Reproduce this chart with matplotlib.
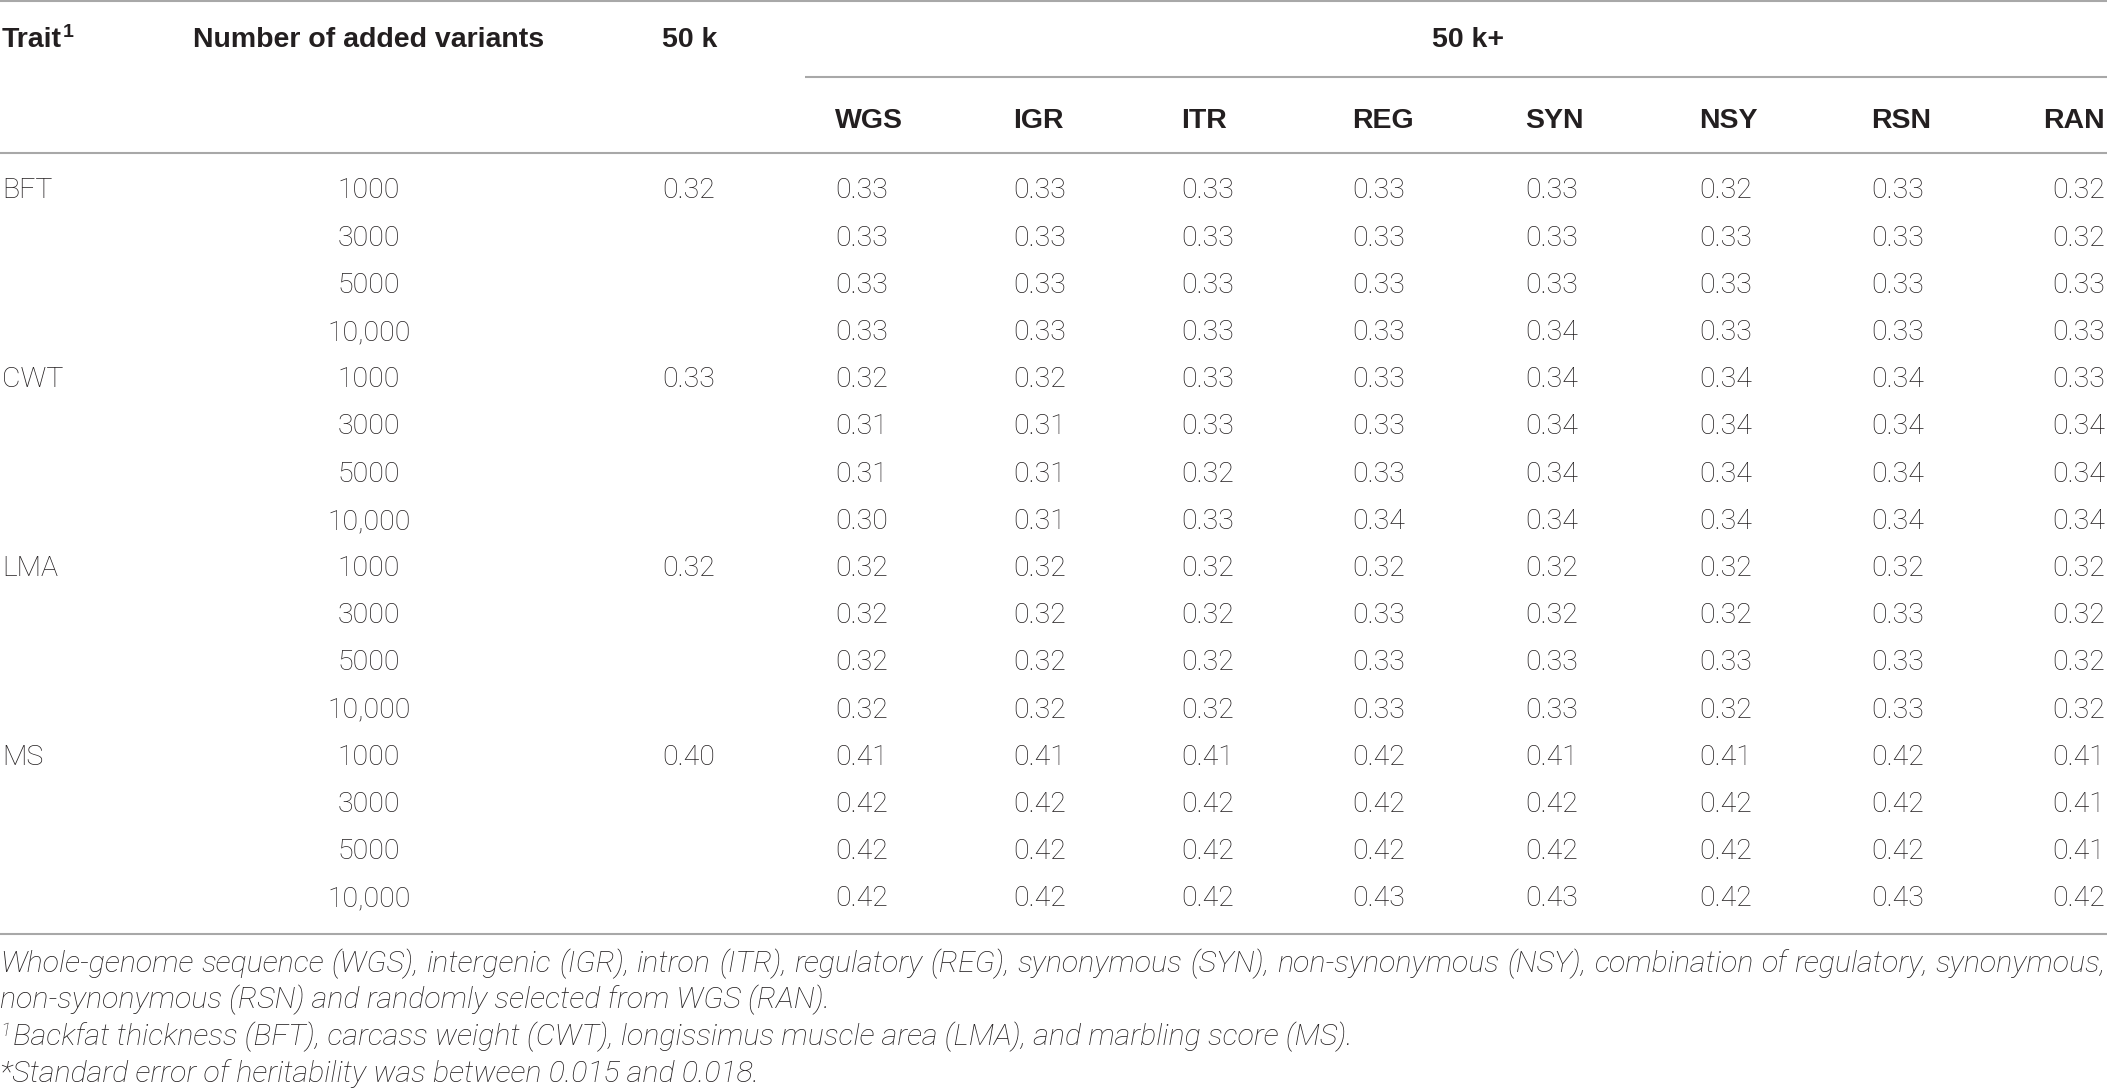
import matplotlib
matplotlib.use('Agg')
import matplotlib.pyplot as plt

# table content
traits = ['BFT', 'CWT', 'LMA', 'MS']
n_added = ['1000', '3000', '5000', '10,000']
h2_50k = [0.32, 0.33, 0.32, 0.40]
panels = ['WGS', 'IGR', 'ITR', 'REG', 'SYN', 'NSY', 'RSN', 'RAN']
h2_bft = [[0.33, 0.33, 0.33, 0.33, 0.33, 0.32, 0.33, 0.32],
          [0.33, 0.33, 0.33, 0.33, 0.33, 0.33, 0.33, 0.32],
          [0.33, 0.33, 0.33, 0.33, 0.33, 0.33, 0.33, 0.33],
          [0.33, 0.33, 0.33, 0.33, 0.34, 0.33, 0.33, 0.33]]
h2_cwt = [[0.32, 0.32, 0.33, 0.33, 0.34, 0.34, 0.34, 0.33],
          [0.31, 0.31, 0.33, 0.33, 0.34, 0.34, 0.34, 0.34],
          [0.31, 0.31, 0.32, 0.33, 0.34, 0.34, 0.34, 0.34],
          [0.30, 0.31, 0.33, 0.34, 0.34, 0.34, 0.34, 0.34]]
h2_lma = [[0.32, 0.32, 0.32, 0.32, 0.32, 0.32, 0.32, 0.32],
          [0.32, 0.32, 0.32, 0.33, 0.32, 0.32, 0.33, 0.32],
          [0.32, 0.32, 0.32, 0.33, 0.33, 0.33, 0.33, 0.32],
          [0.32, 0.32, 0.32, 0.33, 0.33, 0.32, 0.33, 0.32]]
h2_ms = [[0.41, 0.41, 0.41, 0.42, 0.41, 0.41, 0.42, 0.41],
         [0.42, 0.42, 0.42, 0.42, 0.42, 0.42, 0.42, 0.41],
         [0.42, 0.42, 0.42, 0.42, 0.42, 0.42, 0.42, 0.41],
         [0.42, 0.42, 0.42, 0.43, 0.43, 0.42, 0.43, 0.42]]
h2_plus = [h2_bft, h2_cwt, h2_lma, h2_ms]

footnote1 = ('Whole-genome sequence (WGS), intergenic (IGR), intron (ITR), regulatory (REG), '
             'synonymous (SYN), non-synonymous (NSY), combination of regulatory, synonymous,')
footnote2 = 'non-synonymous (RSN) and randomly selected from WGS (RAN).'
footnote3 = ('Backfat thickness (BFT), carcass weight (CWT), longissimus muscle area (LMA), '
             'and marbling score (MS).')
footnote4 = '*Standard error of heritability was between 0.015 and 0.018.'

# layout (pixels)
W, H = 2107, 1089
x_trait = 2
x_num = 369
x_50k = 662
x_panels = [835, 1013, 1181, 1352, 1525, 1699, 1871, W - 2]
ha_panels = ['left'] * 7 + ['right']   # last column hugs the right edge
x_50kplus = 1432
y_head = 47
y_sub = 128
row0 = 198.5
row_step = 47.2
foot_y = [972, 1008, 1045, 1082]

txt_c = '#231f20'
line_c = '#a8a8a8'
body = dict(family=['Roboto', 'DejaVu Sans'], weight='light', size=20.5, color=txt_c)
bold = dict(family=['Liberation Sans', 'DejaVu Sans'], weight='bold', size=20.5, color=txt_c)
ital = dict(family=['Roboto', 'DejaVu Sans'], weight='light', style='italic', size=20, color=txt_c)

fig = plt.figure(figsize=(W / 100, H / 100), dpi=100)
ax = fig.add_axes([0, 0, 1, 1])
ax.set_xlim(0, W)
ax.set_ylim(H, 0)
ax.axis('off')
renderer = fig.canvas.get_renderer()

# rules
ax.hlines([1, 153, 934], 0, W, color=line_c, lw=1.5)
ax.hlines(77, 805, W, color=line_c, lw=1.5)

# header
t = ax.text(x_trait, y_head, 'Trait', va='baseline', ha='left', **bold)
bb = t.get_window_extent(renderer)
ax.text(bb.x1 + 1, y_head - 10, '1', va='baseline', ha='left',
        **{**bold, 'size': 14})
ax.text(x_num, y_head, 'Number of added variants', va='baseline', ha='center', **bold)
ax.text(x_50k, y_head, '50 k', va='baseline', ha='left', **bold)
ax.text(x_50kplus, y_head, '50 k+', va='baseline', ha='left', **bold)
for p, x, ha in zip(panels, x_panels, ha_panels):
    ax.text(x, y_sub, p, va='baseline', ha=ha, **bold)

# body
for i, trait in enumerate(traits):
    for j, n in enumerate(n_added):
        y = row0 + (i * len(n_added) + j) * row_step
        if j == 0:
            ax.text(x_trait, y, trait, va='baseline', ha='left', **body)
            ax.text(x_50k, y, f'{h2_50k[i]:.2f}', va='baseline', ha='left', **body)
        ax.text(x_num, y, n, va='baseline', ha='center', **body)
        for k, (x, ha) in enumerate(zip(x_panels, ha_panels)):
            ax.text(x, y, f'{h2_plus[i][j][k]:.2f}', va='baseline', ha=ha, **body)

# footnote size chosen so the first line just fills the width
probe = ax.text(0, foot_y[0], footnote1, va='baseline', ha='left', **ital)
ital['size'] = ital['size'] * (W - 12) / probe.get_window_extent(renderer).width
probe.remove()

# first footnote line justified to full width
words = footnote1.split(' ')
arts = [ax.text(0, foot_y[0], w, va='baseline', ha='left', **ital) for w in words]
widths = [a.get_window_extent(renderer).width for a in arts]
gap = (W - 1 - sum(widths)) / (len(words) - 1)
x = 0
for a, w in zip(arts, widths):
    a.set_x(x)
    x += w + gap

ax.text(0, foot_y[1], footnote2, va='baseline', ha='left', **ital)
s = ax.text(0, foot_y[2] - 9, '1', va='baseline', ha='left', **{**ital, 'size': 14})
sb = s.get_window_extent(renderer)
ax.text(sb.x1 + 3, foot_y[2], footnote3, va='baseline', ha='left', **ital)
ax.text(0, foot_y[3], footnote4, va='baseline', ha='left', **ital)

fig.savefig('out.png', dpi=100)
